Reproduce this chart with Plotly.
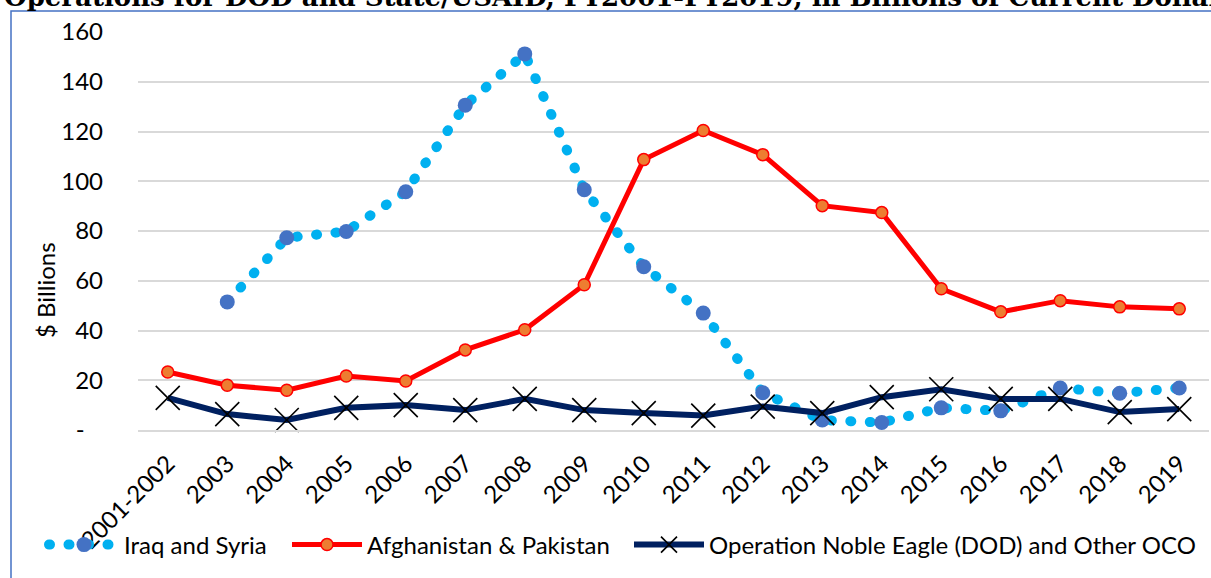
import plotly.graph_objects as go

years = ["2001-2002", "2003", "2004", "2005", "2006", "2007", "2008", "2009", "2010",
         "2011", "2012", "2013", "2014", "2015", "2016", "2017", "2018", "2019"]

# $ billions
iraq_syria = [None, 51.5, 77.3, 79.8, 95.8, 130.6, 151.2, 96.6, 65.6, 47.0,
              15.0, 4.0, 3.0, 8.9, 7.7, 16.9, 14.8, 16.9]
afghan_pak = [23.3, 18.0, 16.0, 21.7, 19.7, 32.2, 40.3, 58.4, 108.7, 120.4,
              110.7, 90.2, 87.4, 56.8, 47.5, 52.0, 49.5, 48.7]
noble_eagle = [12.9, 6.4, 4.0, 8.9, 10.0, 8.0, 12.5, 8.0, 6.8, 5.8,
               9.4, 6.8, 13.2, 16.4, 12.5, 12.5, 7.2, 8.4]

y_ticks = [0, 20, 40, 60, 80, 100, 120, 140, 160]
y_ticktext = ["-\u00a0\u00a0\u00a0", "20", "40", "60", "80", "100", "120", "140", "160"]

title = "Operations for DOD and State/USAID, FY2001-FY2019, in Billions of Current Dollars"

FONT = "Lato"

fig = go.Figure()
fig.add_trace(go.Scatter(
    x=years, y=iraq_syria, name="Iraq and Syria", mode="lines+markers",
    line=dict(color="#00B0F0", width=10, dash="1px,18.5px"),
    marker=dict(color="#4472C4", size=15),
    legend="legend", cliponaxis=False,
))
fig.add_trace(go.Scatter(
    x=years, y=afghan_pak, name="Afghanistan & Pakistan", mode="lines+markers",
    line=dict(color="#FF0000", width=5),
    marker=dict(color="#ED7D31", size=12, line=dict(color="#FF0000", width=1.5)),
    legend="legend2", cliponaxis=False,
))
fig.add_trace(go.Scatter(
    x=years, y=noble_eagle, name="Operation Noble Eagle (DOD) and Other OCO", mode="lines+markers",
    line=dict(color="#002060", width=6),
    marker=dict(symbol="x-thin-open", size=24, color="black", line=dict(color="black", width=1.6)),
    legend="legend3", cliponaxis=False,
))

leg = dict(orientation="h", xref="container", yref="container",
           yanchor="middle", y=1 - 545 / 578, xanchor="left",
           itemwidth=70, font=dict(family=FONT, size=24, color="black"),
           bgcolor="rgba(0,0,0,0)")

fig.update_layout(
    width=1211, height=578,
    margin=dict(l=138, r=2, t=32, b=148, autoexpand=False),
    paper_bgcolor="white", plot_bgcolor="white",
    font=dict(family=FONT, color="black"),
    showlegend=True,
    legend=dict(leg, x=44 / 1211),
    legend2=dict(leg, x=287 / 1211),
    legend3=dict(leg, x=629 / 1211),
    xaxis=dict(
        type="category", range=[-0.5, 17.5], tickangle=-45, automargin=False,
        tickfont=dict(family=FONT, size=24, color="black"),
        showgrid=False, showline=True, linecolor="#D9D9D9", linewidth=2,
        ticks="", fixedrange=True, ticklabelstandoff=8,
    ),
    yaxis=dict(
        range=[0, 160], tickvals=y_ticks, ticktext=y_ticktext, automargin=False,
        tickfont=dict(family=FONT, size=24, color="black"),
        showgrid=True, gridcolor="#D9D9D9", gridwidth=2,
        zeroline=False, ticks="", ticklabelstandoff=34,
    ),
    annotations=[
        dict(text="<b>" + title + "</b>", xref="paper", yref="paper",
             x=(2 - 138) / 1071, y=(398 + 35) / 398, xanchor="left", yanchor="middle",
             showarrow=False, font=dict(family="DejaVu Serif", size=26, color="black")),
        dict(text="$ Billions", xref="paper", yref="paper",
             x=(45 - 138) / 1071, y=(430 - 290) / 398, xanchor="center", yanchor="middle",
             textangle=-90, showarrow=False, font=dict(family=FONT, size=24, color="black")),
    ],
    shapes=[
        dict(type="rect", xref="paper", yref="paper",
             x0=(11 - 138) / 1071, x1=1.2, y0=-0.6, y1=(430 - 11) / 398,
             line=dict(color="#4472C4", width=1.5), fillcolor="rgba(0,0,0,0)"),
    ],
)

# no page margin, and round caps so the dotted line draws as round dots
post = """
document.body.style.margin = '0';
document.querySelectorAll('path.js-line').forEach(function (p) {
  if (p.style.strokeDasharray && p.style.strokeDasharray !== 'none') {
    p.style.strokeLinecap = 'round';
  }
});
"""

fig.write_html("out.html", post_script=post, config={"displayModeBar": False})
